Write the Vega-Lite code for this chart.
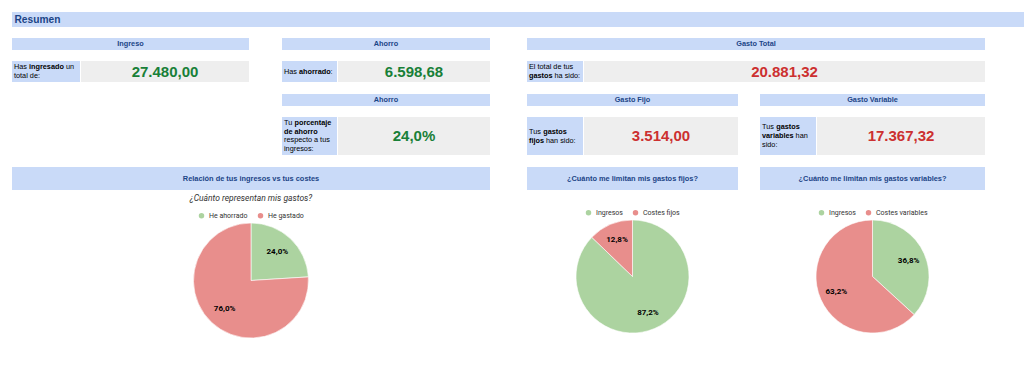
{
  "$schema": "https://vega.github.io/schema/vega-lite/v6.json",
  "padding": {"left": 12, "top": 12, "right": 0, "bottom": 0},
  "config": {
    "view": {"stroke": null},
    "locale": {"number": {"decimal": ",", "thousands": ".", "grouping": [3], "currency": ["", " €"]}},
    "legend": {
      "labelFont": "Roboto", "labelFontSize": 7, "labelColor": "#333333",
      "symbolType": "circle", "symbolSize": 30, "symbolStrokeWidth": 0,
      "columnPadding": 9, "labelOffset": 4, "offset": 4.5, "padding": 0,
      "layout": {"top": {"anchor": "middle"}}
    }
  },
  "datasets": {
    "secciones": [
      {"id": "resumen", "texto": "Resumen"},
      {"id": "relacion", "texto": "Relación de tus ingresos vs tus costes"},
      {"id": "fijos", "texto": "¿Cuánto me limitan mis gastos fijos?"},
      {"id": "variables", "texto": "¿Cuánto me limitan mis gastos variables?"}
    ],
    "tarjetas": [
      {"id": "ingreso", "titulo": "Ingreso", "s1": "Has", "s2": "ingresado", "s3": "un", "s4": "total de:", "valor": 27480.00},
      {"id": "ahorro", "titulo": "Ahorro", "s1": "Has", "s2": "ahorrado", "s3": ":", "valor": 6598.68},
      {"id": "ahorro_pct", "titulo": "Ahorro", "s1": "Tu", "s2": "porcentaje", "s3": "de ahorro", "s4": "respecto a tus", "s5": "ingresos:", "valor": 0.24},
      {"id": "gasto_total", "titulo": "Gasto Total", "s1": "El total de tus", "s2": "gastos", "s3": "ha sido:", "valor": 20881.32},
      {"id": "gasto_fijo", "titulo": "Gasto Fijo", "s1": "Tus", "s2": "gastos", "s3": "fijos", "s4": "han sido:", "valor": 3514.00},
      {"id": "gasto_variable", "titulo": "Gasto Variable", "s1": "Tus", "s2": "gastos", "s3": "variables", "s4": "han", "s5": "sido:", "valor": 17367.32}
    ],
    "pies": [
      {"grafico": "relacion", "categoria": "He ahorrado", "cuota": 0.240, "orden": 1},
      {"grafico": "relacion", "categoria": "He gastado", "cuota": 0.760, "orden": 2},
      {"grafico": "fijos", "categoria": "Ingresos", "cuota": 0.872, "orden": 1},
      {"grafico": "fijos", "categoria": "Costes fijos", "cuota": 0.128, "orden": 2},
      {"grafico": "variables", "categoria": "Ingresos", "cuota": 0.368, "orden": 1},
      {"grafico": "variables", "categoria": "Costes variables", "cuota": 0.632, "orden": 2}
    ]
  },
  "resolve": {"scale": {"color": "independent"}, "legend": {"color": "independent"}},
  "spacing": 11,
  "vconcat": [
    {
      "width": 1012, "height": 15, "view": {"fill": "#c9daf8"},
      "data": {"name": "secciones"}, "transform": [{"filter": "datum.id === 'resumen'"}],
      "mark": {"type": "text", "font": "Liberation Sans", "fontWeight": "bold", "fontSize": 10.2, "color": "#1c4587", "align": "left", "baseline": "middle", "dx": -503.5},
      "encoding": {"text": {"field": "texto"}}
    },
    {
      "spacing": 37,
      "resolve": {"scale": {"color": "independent"}, "legend": {"color": "independent"}},
      "hconcat": [
        {
          "spacing": 12,
          "resolve": {"scale": {"color": "independent"}, "legend": {"color": "independent"}},
          "vconcat": [
            {
              "spacing": 33,
              "hconcat": [
                {
                  "spacing": 11,
                  "vconcat": [
                    {"width": 237, "height": 12, "view": {"fill": "#c9daf8"}, "data": {"name": "tarjetas"}, "transform": [{"filter": "datum.id === 'ingreso'"}],
                     "mark": {"type": "text", "font": "Liberation Sans", "fontWeight": "bold", "fontSize": 7.3, "color": "#1c4587", "baseline": "middle"},
                     "encoding": {"text": {"field": "titulo"}}},
                    {"spacing": 1, "hconcat": [
                      {"width": 68, "height": 21, "view": {"fill": "#c9daf8"}, "data": {"name": "tarjetas"}, "transform": [{"filter": "datum.id === 'ingreso'"}],
                       "layer": [
                         {"mark": {"type": "text", "font": "Liberation Sans", "fontSize": 7.3, "color": "#000000", "align": "left", "baseline": "middle", "dx": -32, "dy": -4.5}, "encoding": {"text": {"field": "s1"}}},
                         {"mark": {"type": "text", "font": "Liberation Sans", "fontSize": 7.3, "fontWeight": "bold", "color": "#000000", "align": "left", "baseline": "middle", "dx": -17, "dy": -4.5}, "encoding": {"text": {"field": "s2"}}},
                         {"mark": {"type": "text", "font": "Liberation Sans", "fontSize": 7.3, "color": "#000000", "align": "left", "baseline": "middle", "dx": 19.9, "dy": -4.5}, "encoding": {"text": {"field": "s3"}}},
                         {"mark": {"type": "text", "font": "Liberation Sans", "fontSize": 7.3, "color": "#000000", "align": "left", "baseline": "middle", "dx": -32, "dy": 4.5}, "encoding": {"text": {"field": "s4"}}}
                       ]},
                      {"width": 168, "height": 21, "view": {"fill": "#eeeeee"}, "data": {"name": "tarjetas"}, "transform": [{"filter": "datum.id === 'ingreso'"}],
                       "mark": {"type": "text", "font": "Liberation Sans", "fontWeight": "bold", "fontSize": 15, "color": "#188038", "baseline": "middle"},
                       "encoding": {"text": {"field": "valor", "type": "quantitative", "format": ",.2f"}}}
                    ]}
                  ]
                },
                {
                  "spacing": 12,
                  "vconcat": [
                    {
                      "spacing": 11,
                      "vconcat": [
                        {"width": 208, "height": 12, "view": {"fill": "#c9daf8"}, "data": {"name": "tarjetas"}, "transform": [{"filter": "datum.id === 'ahorro'"}],
                         "mark": {"type": "text", "font": "Liberation Sans", "fontWeight": "bold", "fontSize": 7.3, "color": "#1c4587", "baseline": "middle"},
                         "encoding": {"text": {"field": "titulo"}}},
                        {"spacing": 1, "hconcat": [
                          {"width": 55, "height": 21, "view": {"fill": "#c9daf8"}, "data": {"name": "tarjetas"}, "transform": [{"filter": "datum.id === 'ahorro'"}],
                           "layer": [
                             {"mark": {"type": "text", "font": "Liberation Sans", "fontSize": 7.3, "color": "#000000", "align": "left", "baseline": "middle", "dx": -25.5}, "encoding": {"text": {"field": "s1"}}},
                             {"mark": {"type": "text", "font": "Liberation Sans", "fontSize": 7.3, "fontWeight": "bold", "color": "#000000", "align": "left", "baseline": "middle", "dx": -10.5}, "encoding": {"text": {"field": "s2"}}},
                             {"mark": {"type": "text", "font": "Liberation Sans", "fontSize": 7.3, "color": "#000000", "align": "left", "baseline": "middle", "dx": 21.1}, "encoding": {"text": {"field": "s3"}}}
                           ]},
                          {"width": 152, "height": 21, "view": {"fill": "#eeeeee"}, "data": {"name": "tarjetas"}, "transform": [{"filter": "datum.id === 'ahorro'"}],
                           "mark": {"type": "text", "font": "Liberation Sans", "fontWeight": "bold", "fontSize": 15, "color": "#188038", "baseline": "middle"},
                           "encoding": {"text": {"field": "valor", "type": "quantitative", "format": ",.2f"}}}
                        ]}
                      ]
                    },
                    {
                      "spacing": 11,
                      "vconcat": [
                        {"width": 208, "height": 12, "view": {"fill": "#c9daf8"}, "data": {"name": "tarjetas"}, "transform": [{"filter": "datum.id === 'ahorro_pct'"}],
                         "mark": {"type": "text", "font": "Liberation Sans", "fontWeight": "bold", "fontSize": 7.3, "color": "#1c4587", "baseline": "middle"},
                         "encoding": {"text": {"field": "titulo"}}},
                        {"spacing": 1, "hconcat": [
                          {"width": 55, "height": 38, "view": {"fill": "#c9daf8"}, "data": {"name": "tarjetas"}, "transform": [{"filter": "datum.id === 'ahorro_pct'"}],
                           "layer": [
                             {"mark": {"type": "text", "font": "Liberation Sans", "fontSize": 7.3, "color": "#000000", "align": "left", "baseline": "middle", "dx": -25.5, "dy": -12.75}, "encoding": {"text": {"field": "s1"}}},
                             {"mark": {"type": "text", "font": "Liberation Sans", "fontSize": 7.3, "fontWeight": "bold", "color": "#000000", "align": "left", "baseline": "middle", "dx": -15, "dy": -12.75}, "encoding": {"text": {"field": "s2"}}},
                             {"mark": {"type": "text", "font": "Liberation Sans", "fontSize": 7.3, "fontWeight": "bold", "color": "#000000", "align": "left", "baseline": "middle", "dx": -25.5, "dy": -4.25}, "encoding": {"text": {"field": "s3"}}},
                             {"mark": {"type": "text", "font": "Liberation Sans", "fontSize": 7.3, "color": "#000000", "align": "left", "baseline": "middle", "dx": -25.5, "dy": 4.25}, "encoding": {"text": {"field": "s4"}}},
                             {"mark": {"type": "text", "font": "Liberation Sans", "fontSize": 7.3, "color": "#000000", "align": "left", "baseline": "middle", "dx": -25.5, "dy": 12.75}, "encoding": {"text": {"field": "s5"}}}
                           ]},
                          {"width": 152, "height": 38, "view": {"fill": "#eeeeee"}, "data": {"name": "tarjetas"}, "transform": [{"filter": "datum.id === 'ahorro_pct'"}],
                           "mark": {"type": "text", "font": "Liberation Sans", "fontWeight": "bold", "fontSize": 15, "color": "#188038", "baseline": "middle"},
                           "encoding": {"text": {"field": "valor", "type": "quantitative", "format": ".1%"}}}
                        ]}
                      ]
                    }
                  ]
                }
              ]
            },
            {
              "spacing": 3,
              "resolve": {"scale": {"color": "independent"}, "legend": {"color": "independent"}},
              "vconcat": [
                {"width": 478, "height": 23, "view": {"fill": "#c9daf8"}, "data": {"name": "secciones"}, "transform": [{"filter": "datum.id === 'relacion'"}],
                 "mark": {"type": "text", "font": "Liberation Sans", "fontWeight": "bold", "fontSize": 7.4, "color": "#1c4587", "baseline": "middle"},
                 "encoding": {"text": {"field": "texto"}}},
                {
                  "width": 478, "height": 115,
                  "title": {"text": "¿Cuánto representan mis gastos?", "font": "Roboto", "fontStyle": "italic", "fontWeight": "normal", "fontSize": 8.5, "color": "#333333", "anchor": "middle", "frame": "group", "offset": 10},
                  "data": {"name": "pies"}, "transform": [{"filter": "datum.grafico === 'relacion'"}],
                  "encoding": {
                    "theta": {"field": "cuota", "type": "quantitative", "stack": true},
                    "order": {"field": "orden", "type": "quantitative"},
                    "color": {"field": "categoria", "type": "nominal", "scale": {"domain": ["He ahorrado", "He gastado"], "range": ["#acd3a0", "#e88e8c"]}, "legend": {"title": null, "orient": "top", "direction": "horizontal"}}
                  },
                  "layer": [
                    {"mark": {"type": "arc", "stroke": "#ffffff", "strokeWidth": 0.6}},
                    {"mark": {"type": "text", "radius": 38.5, "font": "Roboto", "fontWeight": "bold", "fontSize": 8},
                     "encoding": {"text": {"field": "cuota", "type": "quantitative", "format": ".1%"}, "color": {"value": "#000000"}, "detail": {"field": "categoria"}}}
                  ]
                }
              ]
            }
          ]
        },
        {
          "spacing": 12,
          "resolve": {"scale": {"color": "independent"}, "legend": {"color": "independent"}},
          "vconcat": [
            {
              "spacing": 11,
              "vconcat": [
                {"width": 458, "height": 12, "view": {"fill": "#c9daf8"}, "data": {"name": "tarjetas"}, "transform": [{"filter": "datum.id === 'gasto_total'"}],
                 "mark": {"type": "text", "font": "Liberation Sans", "fontWeight": "bold", "fontSize": 7.3, "color": "#1c4587", "baseline": "middle"},
                 "encoding": {"text": {"field": "titulo"}}},
                {"spacing": 1, "hconcat": [
                  {"width": 56, "height": 21, "view": {"fill": "#c9daf8"}, "data": {"name": "tarjetas"}, "transform": [{"filter": "datum.id === 'gasto_total'"}],
                   "layer": [
                     {"mark": {"type": "text", "font": "Liberation Sans", "fontSize": 7.3, "color": "#000000", "align": "left", "baseline": "middle", "dx": -26, "dy": -4.5}, "encoding": {"text": {"field": "s1"}}},
                     {"mark": {"type": "text", "font": "Liberation Sans", "fontSize": 7.3, "fontWeight": "bold", "color": "#000000", "align": "left", "baseline": "middle", "dx": -26, "dy": 4.5}, "encoding": {"text": {"field": "s2"}}},
                     {"mark": {"type": "text", "font": "Liberation Sans", "fontSize": 7.3, "color": "#000000", "align": "left", "baseline": "middle", "dx": -0.5, "dy": 4.5}, "encoding": {"text": {"field": "s3"}}}
                   ]},
                  {"width": 401, "height": 21, "view": {"fill": "#eeeeee"}, "data": {"name": "tarjetas"}, "transform": [{"filter": "datum.id === 'gasto_total'"}],
                   "mark": {"type": "text", "font": "Liberation Sans", "fontWeight": "bold", "fontSize": 15, "color": "#cc3030", "baseline": "middle"},
                   "encoding": {"text": {"field": "valor", "type": "quantitative", "format": ",.2f"}}}
                ]}
              ]
            },
            {
              "spacing": 22,
              "hconcat": [
                {
                  "spacing": 11,
                  "vconcat": [
                    {"width": 211, "height": 12, "view": {"fill": "#c9daf8"}, "data": {"name": "tarjetas"}, "transform": [{"filter": "datum.id === 'gasto_fijo'"}],
                     "mark": {"type": "text", "font": "Liberation Sans", "fontWeight": "bold", "fontSize": 7.3, "color": "#1c4587", "baseline": "middle"},
                     "encoding": {"text": {"field": "titulo"}}},
                    {"spacing": 1, "hconcat": [
                      {"width": 56, "height": 38, "view": {"fill": "#c9daf8"}, "data": {"name": "tarjetas"}, "transform": [{"filter": "datum.id === 'gasto_fijo'"}],
                       "layer": [
                         {"mark": {"type": "text", "font": "Liberation Sans", "fontSize": 7.3, "color": "#000000", "align": "left", "baseline": "middle", "dx": -26, "dy": -4.5}, "encoding": {"text": {"field": "s1"}}},
                         {"mark": {"type": "text", "font": "Liberation Sans", "fontSize": 7.3, "fontWeight": "bold", "color": "#000000", "align": "left", "baseline": "middle", "dx": -11.8, "dy": -4.5}, "encoding": {"text": {"field": "s2"}}},
                         {"mark": {"type": "text", "font": "Liberation Sans", "fontSize": 7.3, "fontWeight": "bold", "color": "#000000", "align": "left", "baseline": "middle", "dx": -26, "dy": 4.5}, "encoding": {"text": {"field": "s3"}}},
                         {"mark": {"type": "text", "font": "Liberation Sans", "fontSize": 7.3, "color": "#000000", "align": "left", "baseline": "middle", "dx": -9, "dy": 4.5}, "encoding": {"text": {"field": "s4"}}}
                       ]},
                      {"width": 154, "height": 38, "view": {"fill": "#eeeeee"}, "data": {"name": "tarjetas"}, "transform": [{"filter": "datum.id === 'gasto_fijo'"}],
                       "mark": {"type": "text", "font": "Liberation Sans", "fontWeight": "bold", "fontSize": 15, "color": "#cc3030", "baseline": "middle"},
                       "encoding": {"text": {"field": "valor", "type": "quantitative", "format": ",.2f"}}}
                    ]}
                  ]
                },
                {
                  "spacing": 11,
                  "vconcat": [
                    {"width": 225, "height": 12, "view": {"fill": "#c9daf8"}, "data": {"name": "tarjetas"}, "transform": [{"filter": "datum.id === 'gasto_variable'"}],
                     "mark": {"type": "text", "font": "Liberation Sans", "fontWeight": "bold", "fontSize": 7.3, "color": "#1c4587", "baseline": "middle"},
                     "encoding": {"text": {"field": "titulo"}}},
                    {"spacing": 1, "hconcat": [
                      {"width": 56, "height": 38, "view": {"fill": "#c9daf8"}, "data": {"name": "tarjetas"}, "transform": [{"filter": "datum.id === 'gasto_variable'"}],
                       "layer": [
                         {"mark": {"type": "text", "font": "Liberation Sans", "fontSize": 7.3, "color": "#000000", "align": "left", "baseline": "middle", "dx": -26, "dy": -9}, "encoding": {"text": {"field": "s1"}}},
                         {"mark": {"type": "text", "font": "Liberation Sans", "fontSize": 7.3, "fontWeight": "bold", "color": "#000000", "align": "left", "baseline": "middle", "dx": -11.8, "dy": -9}, "encoding": {"text": {"field": "s2"}}},
                         {"mark": {"type": "text", "font": "Liberation Sans", "fontSize": 7.3, "fontWeight": "bold", "color": "#000000", "align": "left", "baseline": "middle", "dx": -26, "dy": 0}, "encoding": {"text": {"field": "s3"}}},
                         {"mark": {"type": "text", "font": "Liberation Sans", "fontSize": 7.3, "color": "#000000", "align": "left", "baseline": "middle", "dx": 7.6, "dy": 0}, "encoding": {"text": {"field": "s4"}}},
                         {"mark": {"type": "text", "font": "Liberation Sans", "fontSize": 7.3, "color": "#000000", "align": "left", "baseline": "middle", "dx": -26, "dy": 9}, "encoding": {"text": {"field": "s5"}}}
                       ]},
                      {"width": 168, "height": 38, "view": {"fill": "#eeeeee"}, "data": {"name": "tarjetas"}, "transform": [{"filter": "datum.id === 'gasto_variable'"}],
                       "mark": {"type": "text", "font": "Liberation Sans", "fontWeight": "bold", "fontSize": 15, "color": "#cc3030", "baseline": "middle"},
                       "encoding": {"text": {"field": "valor", "type": "quantitative", "format": ",.2f"}}}
                    ]}
                  ]
                }
              ]
            },
            {
              "spacing": 22,
              "resolve": {"scale": {"color": "independent"}, "legend": {"color": "independent"}},
              "hconcat": [
                {
                  "spacing": 19,
                  "resolve": {"scale": {"color": "independent"}, "legend": {"color": "independent"}},
                  "vconcat": [
                    {"width": 211, "height": 23, "view": {"fill": "#c9daf8"}, "data": {"name": "secciones"}, "transform": [{"filter": "datum.id === 'fijos'"}],
                     "mark": {"type": "text", "font": "Liberation Sans", "fontWeight": "bold", "fontSize": 7.4, "color": "#1c4587", "baseline": "middle"},
                     "encoding": {"text": {"field": "texto"}}},
                    {
                      "width": 211, "height": 113,
                      "data": {"name": "pies"}, "transform": [{"filter": "datum.grafico === 'fijos'"}],
                      "encoding": {
                        "theta": {"field": "cuota", "type": "quantitative", "stack": true},
                        "order": {"field": "orden", "type": "quantitative"},
                        "color": {"field": "categoria", "type": "nominal", "scale": {"domain": ["Ingresos", "Costes fijos"], "range": ["#acd3a0", "#e88e8c"]}, "legend": {"title": null, "orient": "top", "direction": "horizontal"}}
                      },
                      "layer": [
                        {"mark": {"type": "arc", "stroke": "#ffffff", "strokeWidth": 0.6}},
                        {"mark": {"type": "text", "radius": 39.5, "font": "Roboto", "fontWeight": "bold", "fontSize": 8},
                         "encoding": {"text": {"field": "cuota", "type": "quantitative", "format": ".1%"}, "color": {"value": "#000000"}, "detail": {"field": "categoria"}}}
                      ]
                    }
                  ]
                },
                {
                  "spacing": 19,
                  "resolve": {"scale": {"color": "independent"}, "legend": {"color": "independent"}},
                  "vconcat": [
                    {"width": 225, "height": 23, "view": {"fill": "#c9daf8"}, "data": {"name": "secciones"}, "transform": [{"filter": "datum.id === 'variables'"}],
                     "mark": {"type": "text", "font": "Liberation Sans", "fontWeight": "bold", "fontSize": 7.4, "color": "#1c4587", "baseline": "middle"},
                     "encoding": {"text": {"field": "texto"}}},
                    {
                      "width": 225, "height": 113,
                      "data": {"name": "pies"}, "transform": [{"filter": "datum.grafico === 'variables'"}],
                      "encoding": {
                        "theta": {"field": "cuota", "type": "quantitative", "stack": true},
                        "order": {"field": "orden", "type": "quantitative"},
                        "color": {"field": "categoria", "type": "nominal", "scale": {"domain": ["Ingresos", "Costes variables"], "range": ["#acd3a0", "#e88e8c"]}, "legend": {"title": null, "orient": "top", "direction": "horizontal"}}
                      },
                      "layer": [
                        {"mark": {"type": "arc", "stroke": "#ffffff", "strokeWidth": 0.6}},
                        {"mark": {"type": "text", "radius": 39.5, "font": "Roboto", "fontWeight": "bold", "fontSize": 8},
                         "encoding": {"text": {"field": "cuota", "type": "quantitative", "format": ".1%"}, "color": {"value": "#000000"}, "detail": {"field": "categoria"}}}
                      ]
                    }
                  ]
                }
              ]
            }
          ]
        }
      ]
    }
  ]
}
